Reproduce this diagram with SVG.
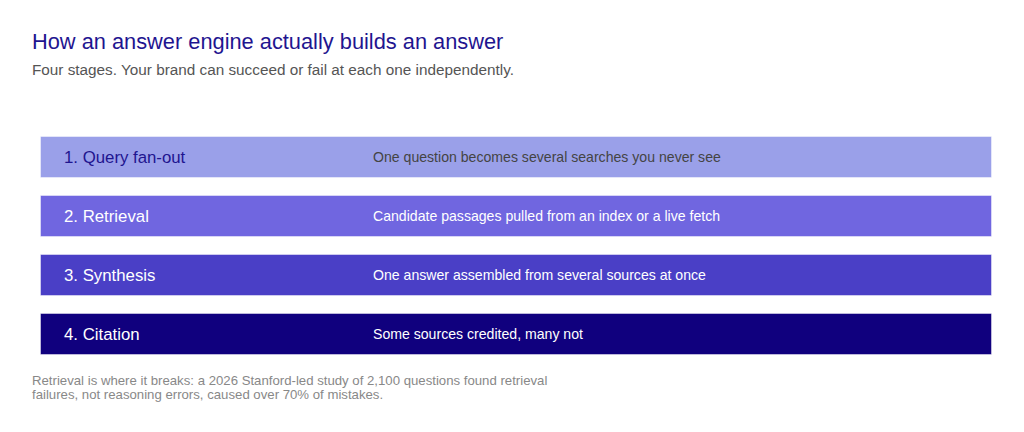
<svg xmlns="http://www.w3.org/2000/svg" width="1024" height="432" viewBox="0 0 1024 432">
<style>
.t{font-family:"Liberation Sans",Arial,sans-serif}
.title{font-size:21.8px;fill:#1f1590}
.sub{font-size:15.3px;fill:#555}
.bar{stroke:#ffffff;stroke-opacity:0.45;stroke-width:1}
.lab{font-size:16.8px}
.desc{font-size:14.1px}
.note{font-size:13.2px;fill:#888}
</style>
<rect width="1024" height="432" fill="#fff"/>
<text class="t title" x="32" y="48.5">How an answer engine actually builds an answer</text>
<text class="t sub" x="32" y="75">Four stages. Your brand can succeed or fail at each one independently.</text>
<g id="stage1">
<rect class="bar" x="40.5" y="136.5" width="951" height="41" fill="#9aa0e9"/>
<text class="t lab" x="64" y="163" fill="#1f1590">1. Query fan-out</text>
<text class="t desc" x="373" y="161.5" fill="#444">One question becomes several searches you never see</text>
</g>
<g id="stage2">
<rect class="bar" x="40.5" y="195.5" width="951" height="41" fill="#7066e0"/>
<text class="t lab" x="64" y="222" fill="#fff">2. Retrieval</text>
<text class="t desc" x="373" y="220.5" fill="#fff">Candidate passages pulled from an index or a live fetch</text>
</g>
<g id="stage3">
<rect class="bar" x="40.5" y="254.5" width="951" height="41" fill="#4a3fc6"/>
<text class="t lab" x="64" y="281" fill="#fff">3. Synthesis</text>
<text class="t desc" x="373" y="279.5" fill="#fff">One answer assembled from several sources at once</text>
</g>
<g id="stage4">
<rect class="bar" x="40.5" y="313.5" width="951" height="41" fill="#10007e"/>
<text class="t lab" x="64" y="340" fill="#fff">4. Citation</text>
<text class="t desc" x="373" y="338.5" fill="#fff">Some sources credited, many not</text>
</g>
<g id="connectors"></g>
<text class="t note" x="32" y="385">Retrieval is where it breaks: a 2026 Stanford-led study of 2,100 questions found retrieval</text>
<text class="t note" x="32" y="398.5">failures, not reasoning errors, caused over 70% of mistakes.</text>
</svg>
